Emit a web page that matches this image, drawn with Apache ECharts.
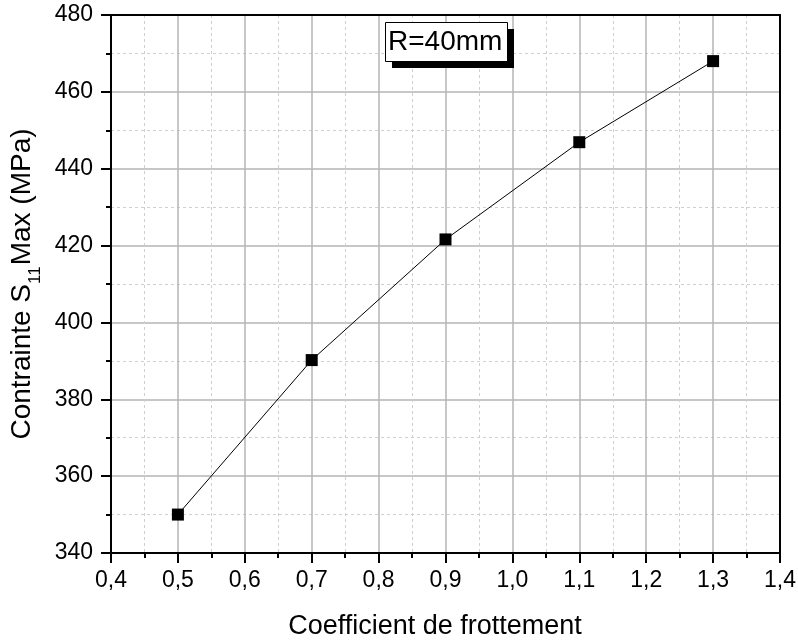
<!DOCTYPE html>
<html>
<head>
<meta charset="utf-8">
<script src="https://cdn.jsdelivr.net/npm/echarts@6/dist/echarts.min.js"></script>
<style>
  html, body { margin: 0; padding: 0; background: #fff; }
  #chart { width: 798px; height: 642px; }
</style>
</head>
<body>
<div id="chart"></div>
<script>
// Friction coefficient vs. maximum S11 stress
const coefficients = [0.5, 0.7, 0.9, 1.1, 1.3];
const stressMax = [350.0, 390.2, 421.6, 446.9, 468.0];
const xTicks = { min: 0.4, max: 1.4, interval: 0.1 };
const yTicks = { min: 340, max: 480, interval: 20 };
const boxLabel = 'R=40mm';

const FONT = '"Liberation Sans", Arial, sans-serif';
const chart = echarts.init(document.getElementById('chart'), null, { renderer: 'canvas' });

const points = coefficients.map((c, i) => [c, stressMax[i]]);

chart.setOption({
  animation: false,
  backgroundColor: '#ffffff',
  textStyle: { fontFamily: FONT },
  grid: { left: 111, top: 15, right: 18, bottom: 89, containLabel: false, outerBoundsMode: 'none' },
  xAxis: [
    {
      type: 'value',
      min: xTicks.min, max: xTicks.max, interval: xTicks.interval,
      name: 'Coefficient de frottement',
      nameLocation: 'middle',
      nameGap: 60,
      nameTextStyle: { fontSize: 27, color: '#000', fontFamily: FONT, padding: [0, 21, 0, 0] },
      axisLine: { show: true, onZero: false, lineStyle: { color: '#000', width: 2 } },
      axisTick: { show: true, inside: false, length: 10, lineStyle: { color: '#000', width: 2 } },
      minorTick: { show: true, splitNumber: 2, length: 5, lineStyle: { color: '#000', width: 2 } },
      axisLabel: {
        fontSize: 23, color: '#000', margin: 16, fontFamily: FONT,
        formatter: v => v.toFixed(1).replace('.', ',')
      },
      splitLine: { show: true, lineStyle: { color: '#b4b4b4', width: 1.5 } },
      minorSplitLine: { show: true, lineStyle: { color: '#cfcfcf', width: 1, type: [3, 3] } }
    },
    {
      type: 'value', position: 'top',
      min: xTicks.min, max: xTicks.max, interval: xTicks.interval,
      axisLine: { show: true, onZero: false, lineStyle: { color: '#000', width: 2 } },
      axisTick: { show: false }, axisLabel: { show: false }, splitLine: { show: false }
    }
  ],
  yAxis: [
    {
      type: 'value',
      min: yTicks.min, max: yTicks.max, interval: yTicks.interval,
      name: '{a|Contrainte S}{s|11}{a|Max (MPa)}',
      nameLocation: 'middle',
      nameGap: 65,
      nameTextStyle: {
        color: '#000', fontFamily: FONT,
        rich: {
          a: { fontSize: 28, color: '#000', fontFamily: FONT, lineHeight: 35, verticalAlign: 'top' },
          s: { fontSize: 17, color: '#000', fontFamily: FONT, lineHeight: 24, verticalAlign: 'bottom', padding: [0, 1, 0, 0] }
        }
      },
      axisLine: { show: true, onZero: false, lineStyle: { color: '#000', width: 2 } },
      axisTick: { show: true, inside: false, length: 10, lineStyle: { color: '#000', width: 2 } },
      minorTick: { show: true, splitNumber: 2, length: 5, lineStyle: { color: '#000', width: 2 } },
      axisLabel: { fontSize: 23, color: '#000', margin: 18, fontFamily: FONT },
      splitLine: { show: true, lineStyle: { color: '#b4b4b4', width: 1.5 } },
      minorSplitLine: { show: true, lineStyle: { color: '#cfcfcf', width: 1, type: [3, 3] } }
    },
    {
      type: 'value', position: 'right',
      min: yTicks.min, max: yTicks.max, interval: yTicks.interval,
      axisLine: { show: true, onZero: false, lineStyle: { color: '#000', width: 2 } },
      axisTick: { show: false }, axisLabel: { show: false }, splitLine: { show: false }
    }
  ],
  series: [
    {
      type: 'line',
      data: points,
      symbol: 'rect',
      symbolSize: 12,
      itemStyle: { color: '#000' },
      lineStyle: { color: '#000', width: 1 },
      z: 5
    }
  ],
  graphic: [
    {
      type: 'rect', left: 392, top: 29, z: 10,
      shape: { width: 122, height: 39 },
      style: { fill: '#000' }
    },
    {
      type: 'rect', left: 385, top: 22, z: 11,
      shape: { width: 122, height: 39 },
      style: { fill: '#fff', stroke: '#000', lineWidth: 1 }
    },
    {
      type: 'text', left: 388, top: 28, z: 12,
      style: { text: boxLabel, font: '28px ' + FONT, fill: '#000' }
    }
  ]
});
</script>
</body>
</html>
